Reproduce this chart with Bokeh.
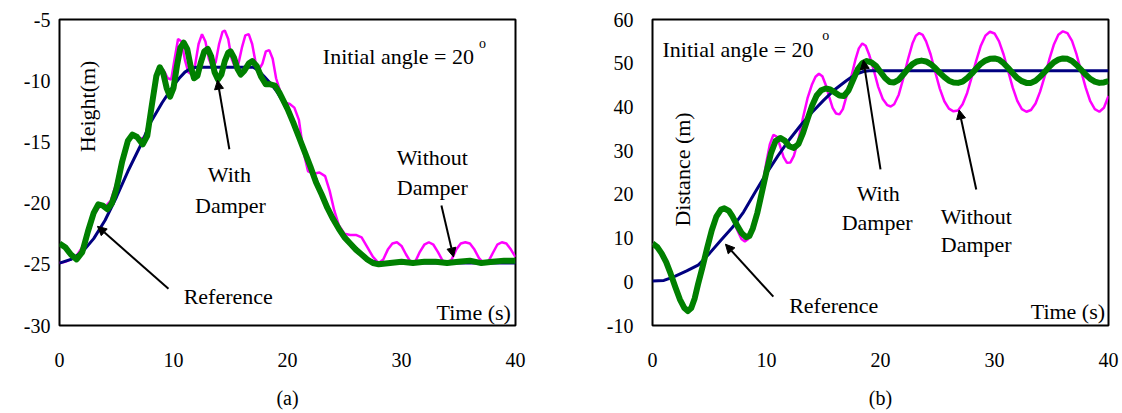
import math
from bokeh.plotting import figure
from bokeh.layouts import row
from bokeh.models import Range1d, FixedTicker, Label, Arrow, NormalHead
from bokeh.embed import file_html
from bokeh.resources import INLINE

FONT = "'Liberation Serif', 'Times New Roman', serif"
NAVY = "#000080"
MAGENTA = "#FF00FF"
GREEN = "#008000"

# ---------------- ticks ----------------
x_ticks = [0, 10, 20, 30, 40]
y_ticks_a = [-30, -25, -20, -15, -10, -5]
y_ticks_b = [-10, 0, 10, 20, 30, 40, 50, 60]

# ---------------- Panel (a): Height ----------------
t_ref_a = [0, 1, 2, 3, 4, 5, 6, 7, 8, 9, 10, 10.5, 11, 11.5, 12, 17, 17.5, 18, 18.5, 19,
           20, 21, 22, 23, 24, 25, 26, 27, 28, 40]
h_ref_a = [-24.9, -24.6, -24.0, -22.9, -21.4, -19.5, -17.4, -15.5, -13.4, -11.8, -10.4, -9.8,
           -9.3, -9.0, -8.9, -8.9, -9.2, -9.7, -10.2, -10.8, -12.3, -14.5, -16.9, -19.2, -21.2,
           -22.8, -23.9, -24.6, -24.9, -24.9]

t_wd_a = [0, 0.5, 1.0, 1.5, 2.0, 2.5, 3.0, 3.4, 3.8, 4.2, 4.6, 5.0, 5.5, 6.0, 6.4, 6.8, 7.3,
          7.7, 8.1, 8.5, 8.8, 9.1, 9.4, 9.7, 10.0, 10.3, 10.6, 10.9, 11.2, 11.5, 11.8, 12.1,
          12.4, 12.7, 13.0, 13.3, 13.6, 13.9, 14.2, 14.5, 14.8, 15.0, 15.3, 15.6, 15.9, 16.2,
          16.6, 16.9, 17.3, 17.7, 18.1, 18.5, 18.9, 19.3, 20.0, 20.5, 21.0, 21.5, 22.0, 22.5,
          23.0, 23.5, 24.0, 24.5, 25.0, 25.5, 26.0, 26.5, 27.0, 27.5, 28, 29, 30, 31, 32, 33,
          34, 35, 36, 37, 38, 39, 40]
h_wd_a = [-23.3, -23.6, -24.2, -24.6, -24.0, -22.3, -20.8, -20.1, -20.2, -20.5, -20.0, -18.8,
          -16.6, -14.9, -14.4, -14.6, -15.2, -14.5, -12.0, -9.6, -8.9, -9.4, -10.6, -11.3,
          -10.6, -8.8, -7.3, -6.9, -7.4, -8.8, -9.8, -9.6, -8.5, -7.6, -7.4, -8.0, -9.3, -9.9,
          -9.5, -8.4, -7.7, -7.6, -8.1, -9.0, -9.5, -9.2, -8.6, -8.4, -8.8, -9.7, -10.3, -10.3,
          -10.4, -11.0, -12.3, -13.4, -14.6, -15.8, -17.0, -18.3, -19.3, -20.4, -21.3, -22.1,
          -22.8, -23.3, -23.8, -24.2, -24.6, -24.9, -25.0, -24.9, -24.8, -24.9, -24.8, -24.8,
          -24.9, -24.8, -24.7, -24.9, -24.8, -24.7, -24.7]

t_wo_a = [0, 0.5, 1.0, 1.5, 2.0, 2.5, 3.0, 3.5, 4.0, 4.5, 5.0, 5.5, 6.0, 6.5, 7.0, 7.5, 8.0,
          8.5, 8.8, 9.1, 9.5, 9.8, 10.1, 10.4, 10.7, 11.0, 11.3, 11.6, 11.9, 12.2, 12.5, 12.8,
          13.1, 13.4, 13.7, 14.0, 14.3, 14.5, 14.8, 15.1, 15.4, 15.7, 16.0, 16.3, 16.6, 16.9,
          17.2, 17.5, 17.8, 18.1, 18.4, 18.7, 19.0, 19.4, 19.8, 20.2, 20.6, 21.0, 21.4, 21.8,
          22.3, 22.8, 23.3, 23.7, 24.1, 24.5, 25.0, 25.5, 26.0, 26.5, 27.0, 27.5, 28.0, 28.4,
          28.8, 29.2, 29.6, 30.0, 30.4, 30.8, 31.2, 31.6, 32.0, 32.4, 32.8, 33.2, 33.6, 34.0,
          34.4, 34.8, 35.2, 35.6, 36.0, 36.4, 36.8, 37.2, 37.6, 38.0, 38.4, 38.8, 39.2, 39.6,
          40.0]
h_wo_a = [-24.9, -24.8, -24.6, -24.3, -23.6, -22.4, -21.0, -20.3, -20.3, -19.8, -18.3, -16.3,
          -14.9, -14.5, -14.8, -14.6, -12.6, -10.0, -9.0, -9.1, -9.8, -9.9, -8.2, -6.6, -6.8,
          -8.3, -9.3, -9.5, -8.7, -7.0, -6.2, -6.8, -8.2, -8.9, -8.5, -7.0, -6.0, -5.9, -6.6,
          -8.2, -8.9, -8.6, -7.3, -6.3, -6.2, -7.0, -8.5, -9.1, -8.6, -7.6, -7.5, -8.2, -9.8,
          -11.0, -11.8, -11.9, -12.2, -13.2, -15.8, -17.4, -17.6, -17.5, -17.8, -19.0, -20.6,
          -21.8, -22.5, -22.6, -22.6, -22.8, -23.6, -24.4, -24.9, -24.6, -23.8, -23.3, -23.2,
          -23.5, -24.2, -24.8, -24.8, -24.0, -23.4, -23.2, -23.4, -24.0, -24.7, -24.9, -24.6,
          -23.8, -23.3, -23.2, -23.3, -23.8, -24.5, -24.9, -24.8, -24.1, -23.4, -23.2, -23.3,
          -23.8, -24.4]

# ---------------- Panel (b): Distance ----------------
t_ref_b = [0, 1, 1.5, 2, 3, 4, 5, 6, 7, 8, 9, 10, 11, 12, 13, 14, 15, 16, 17, 17.5, 18, 18.5,
           19, 40]
d_ref_b = [0.2, 0.3, 0.8, 1.3, 2.5, 3.8, 6.5, 9.5, 12.4, 16.0, 20.5, 24.8, 28.8, 32.5, 35.8,
           38.8, 41.5, 44.0, 46.0, 46.9, 47.6, 48.1, 48.3, 48.3]

t_wd_b = [0, 0.4, 0.8, 1.2, 1.6, 2.0, 2.4, 2.8, 3.1, 3.4, 3.7, 4.0, 4.4, 4.8, 5.2, 5.6, 6.0,
          6.3, 6.7, 7.0, 7.4, 7.8, 8.2, 8.5, 8.8, 9.2, 9.6, 10.0, 10.4, 10.8, 11.2, 11.6, 12.0,
          12.4, 12.8, 13.2, 13.6, 14.0, 14.4, 14.8, 15.2, 15.6, 16.0, 16.4, 16.8, 17.2, 17.6,
          18.0, 18.4, 18.8, 19.2, 19.6, 20.0, 20.4, 20.8, 21.2, 21.6, 22.0, 22.4, 22.8, 23.2,
          23.6, 24.0, 24.4, 24.8, 25.2, 25.6, 26.0, 26.4, 26.8, 27.2, 27.6, 28.0, 28.4, 28.8,
          29.2, 29.6, 30.0, 30.4, 30.8, 31.2, 31.6, 32.0, 32.4, 32.8, 33.2, 33.6, 34.0, 34.4,
          34.8, 35.2, 35.6, 36.0, 36.4, 36.8, 37.2, 37.6, 38.0, 38.4, 38.8, 39.2, 39.6, 40.0]
d_wd_b = [8.8, 8.0, 6.5, 4.5, 1.8, -1.2, -4.0, -6.0, -6.7, -6.0, -3.8, -0.5, 3.5, 7.8, 11.8,
          14.9, 16.5, 16.8, 16.2, 15.0, 13.0, 11.2, 10.2, 10.5, 12.2, 15.8, 20.5, 25.2, 29.5,
          32.2, 32.9, 32.3, 31.0, 30.6, 31.5, 34.0, 37.2, 40.3, 42.6, 43.8, 44.2, 44.0, 43.3,
          42.6, 42.5, 43.8, 46.2, 48.6, 50.0, 50.5, 50.2, 49.4, 48.0, 46.6, 45.7, 45.6, 46.2,
          47.4, 48.7, 49.8, 50.4, 50.6, 50.4, 49.8, 48.9, 47.8, 46.8, 46.0, 45.6, 45.5, 45.8,
          46.6, 47.6, 48.8, 49.9, 50.6, 51.0, 51.1, 50.8, 50.0, 48.9, 47.7, 46.6, 45.9, 45.5,
          45.5, 46.0, 46.9, 48.0, 49.2, 50.2, 50.8, 51.1, 51.0, 50.5, 49.6, 48.5, 47.4, 46.4,
          45.8, 45.5, 45.6, 45.9]

t_wo_b = [0, 0.4, 0.8, 1.2, 1.6, 2.0, 2.4, 2.8, 3.1, 3.4, 3.7, 4.0, 4.4, 4.8, 5.2, 5.6, 6.0,
          6.3, 6.7, 7.0, 7.4, 7.8, 8.1, 8.4, 8.8, 9.2, 9.6, 10.0, 10.3, 10.6, 10.9, 11.2, 11.5,
          11.8, 12.1, 12.4, 12.8, 13.2, 13.6, 14.0, 14.3, 14.6, 14.9, 15.2, 15.5, 15.8, 16.1,
          16.4, 16.7, 17.0, 17.4, 17.8, 18.1, 18.4, 18.7, 19.0, 19.4, 19.8, 20.2, 20.6, 20.9,
          21.2, 21.6, 22.0, 22.4, 22.8, 23.1, 23.4, 23.7, 24.0, 24.4, 24.8, 25.2, 25.6, 26.0,
          26.4, 26.8, 27.2, 27.6, 28.0, 28.4, 28.8, 29.2, 29.6, 30.0, 30.4, 30.8, 31.2, 31.6,
          32.0, 32.4, 32.8, 33.2, 33.6, 34.0, 34.4, 34.8, 35.2, 35.6, 36.0, 36.4, 36.8, 37.2,
          37.6, 38.0, 38.4, 38.8, 39.2, 39.6, 40.0]
d_wo_b = [8.8, 8.0, 6.5, 4.5, 1.8, -1.2, -4.0, -6.0, -6.7, -6.0, -3.8, -0.5, 3.5, 7.8, 11.8,
          15.0, 16.7, 17.0, 16.2, 14.6, 12.0, 9.8, 9.2, 9.8, 12.2, 16.2, 21.5, 27.5, 31.5, 33.6,
          33.2, 31.0, 28.5, 27.2, 27.3, 28.8, 32.5, 37.5, 42.0, 45.2, 46.9, 47.6, 47.0, 45.0,
          42.3, 39.8, 38.5, 38.3, 39.5, 42.3, 46.5, 50.8, 53.4, 54.5, 54.0, 52.0, 48.5, 44.6,
          41.8, 40.4, 40.1, 40.6, 42.8, 46.5, 50.8, 54.5, 56.3, 56.9, 56.5, 55.0, 52.0, 48.0,
          44.2, 41.3, 39.6, 39.0, 39.2, 40.6, 43.2, 46.8, 50.6, 54.0, 56.3, 57.2, 56.8, 55.0,
          52.0, 48.2, 44.4, 41.4, 39.5, 38.9, 39.3, 40.8, 43.5, 47.0, 50.8, 54.2, 56.5, 57.3,
          56.9, 55.1, 52.0, 48.2, 44.4, 41.3, 39.5, 38.9, 39.8, 42.5]

# ---------------- annotations (data coordinates) ----------------
texts_a = [("Initial angle = 20", 23.1, -8.0, "left"),
           ("With", 14.9, -17.7, "center"), ("Damper", 15.0, -20.2, "center"),
           ("Reference", 14.8, -27.6, "center"),
           ("Without", 32.7, -16.3, "center"), ("Damper", 32.7, -18.7, "center"),
           ("Time (s)", 39.6, -28.9, "right")]
sup_a = (36.8, -7.0)
ylab_a = ("Height(m)", 2.45, -12.1)
arrows_a = [(9.56, -27.0, 3.33, -21.9), (14.9, -15.6, 13.86, -9.96), (33.5, -20.2, 34.56, -24.4)]

texts_b = [("Initial angle = 20", 0.88, 53.2, "left"),
           ("With", 19.8, 20.2, "center"), ("Damper", 19.7, 13.6, "center"),
           ("Without", 28.4, 15.0, "center"), ("Damper", 28.4, 8.6, "center"),
           ("Reference", 15.9, -5.4, "center"),
           ("Time (s)", 39.7, -6.8, "right")]
sup_b = (14.9, 56.4)
ylab_b = ("Distance (m)", 2.63, 25.7)
arrows_b = [(10.6, -3.4, 6.4, 8.6), (20.0, 25.7, 18.5, 50.7), (28.4, 21.1, 26.9, 39.3)]


def make_fig(yr, yticks, w, h, bl, br, bt, bb, ystandoff, xlabel):
    p = figure(width=w, height=h, x_range=Range1d(0, 40), y_range=Range1d(*yr),
               output_backend="svg", toolbar_location=None,
               min_border_left=bl, min_border_right=br, min_border_top=bt, min_border_bottom=bb)
    p.xgrid.visible = False
    p.ygrid.visible = False
    p.outline_line_color = "black"
    p.outline_line_width = 2
    p.outline_line_alpha = 1
    p.background_fill_color = "white"
    p.border_fill_color = "white"
    p.axis.axis_line_color = None
    p.axis.major_tick_line_color = None
    p.axis.minor_tick_line_color = None
    p.axis.major_tick_out = 0
    p.axis.major_tick_in = 0
    p.axis.minor_tick_out = 0
    p.axis.minor_tick_in = 0
    p.axis.major_label_text_font = FONT
    p.axis.major_label_text_font_size = "20px"
    p.axis.major_label_text_color = "black"
    p.xaxis.ticker = FixedTicker(ticks=x_ticks)
    p.yaxis.ticker = FixedTicker(ticks=yticks)
    p.xaxis.major_label_overrides = {v: str(v) for v in x_ticks}
    p.yaxis.major_label_overrides = {v: str(v) for v in yticks}
    p.xaxis.major_label_standoff = 27
    p.yaxis.major_label_standoff = ystandoff
    p.xaxis.axis_label = xlabel
    p.xaxis.axis_label_text_font = FONT
    p.xaxis.axis_label_text_font_style = "normal"
    p.xaxis.axis_label_text_font_size = "20px"
    p.xaxis.axis_label_text_color = "black"
    p.xaxis.axis_label_standoff = 17
    return p


def decorate(p, texts, sup, ylab, arrows):
    for txt, x, y, al in texts:
        p.add_layout(Label(x=x, y=y, text=txt, text_font=FONT, text_font_size="22px",
                           text_align=al, text_baseline="alphabetic", text_color="black"))
    p.add_layout(Label(x=sup[0], y=sup[1], text="o", text_font=FONT, text_font_size="14px",
                       text_align="left", text_baseline="alphabetic", text_color="black"))
    p.add_layout(Label(x=ylab[1], y=ylab[2], text=ylab[0], text_font=FONT,
                       text_font_size="22px", angle=math.pi / 2, text_align="center",
                       text_baseline="alphabetic", text_color="black"))
    for xs, ys, xe, ye in arrows:
        p.add_layout(Arrow(end=NormalHead(size=9, fill_color="black", line_color="black"),
                           x_start=xs, y_start=ys, x_end=xe, y_end=ye,
                           line_color="black", line_width=2))


pa = make_fig((-30, -5), y_ticks_a, 600, 411, 59, 85, 16, 86, 9, "(a)")
pa.line(t_wo_a, h_wo_a, line_color=MAGENTA, line_width=2.5)
pa.line(t_ref_a, h_ref_a, line_color=NAVY, line_width=3)
pa.line(t_wd_a, h_wd_a, line_color=GREEN, line_width=6, line_join="round")
decorate(pa, texts_a, sup_a, ylab_a, arrows_a)

pb = make_fig((-10, 60), y_ticks_b, 520, 411, 52, 12, 19, 84, 19, "(b)")
pb.line(t_wo_b, d_wo_b, line_color=MAGENTA, line_width=2.5)
pb.line(t_ref_b, d_ref_b, line_color=NAVY, line_width=3)
pb.line(t_wd_b, d_wd_b, line_color=GREEN, line_width=6, line_join="round")
decorate(pb, texts_b, sup_b, ylab_b, arrows_b)

layout = row(pa, pb)
open("out.html", "w").write(file_html(layout, INLINE))
